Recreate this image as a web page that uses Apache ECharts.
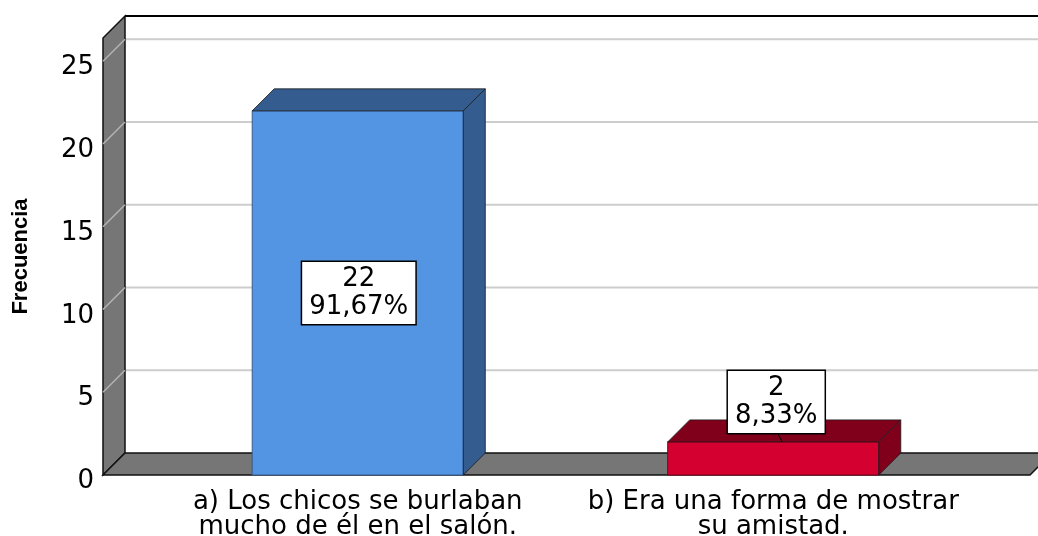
<!DOCTYPE html>
<html>
<head>
<meta charset="utf-8">
<script src="https://cdn.jsdelivr.net/npm/echarts@6/dist/echarts.min.js"></script>
<style>
  html, body { margin: 0; padding: 0; background: #fff; }
  #main { width: 1038px; height: 536px; }
</style>
</head>
<body>
<div id="main"></div>
<script>
// datos del gráfico
var categories = ['a) Los chicos se burlaban\nmucho de él en el salón.', 'b) Era una forma de mostrar\nsu amistad.'];
var frecuencias = [22, 2];
var yTicks = [0, 5, 10, 15, 20, 25];

var total = frecuencias.reduce(function (a, b) { return a + b; }, 0);
var frontColors = ['#5495e3', '#d4002f'];
var darkColors = ['#355c8f', '#80001c'];
var DEPTH = 22;          // desplazamiento 3D
var PAD_LEFT = 47;       // la pared sale del grid
var PAD_RIGHT = 49;
var FONT = 'DejaVu Sans';

function pct(v) {
    return (v / total * 100).toFixed(2).replace('.', ',') + '%';
}

// paredes, piso y líneas de la cuadrícula
function renderWalls(params, api) {
    var cs = params.coordSys;
    var fl = cs.x - PAD_LEFT, fr = cs.x + cs.width + PAD_RIGHT;
    var top = cs.y, y0 = cs.y + cs.height;
    var bl = fl + DEPTH, br = fr + DEPTH;
    var children = [];
    children.push({ type: 'rect', shape: { x: bl, y: top - DEPTH, width: br - bl, height: cs.height }, style: { fill: '#fff' } });
    yTicks.forEach(function (t) {
        if (t === 0) return;
        var y = api.coord([0, t])[1];
        children.push({ type: 'line', shape: { x1: bl, y1: y - DEPTH, x2: br, y2: y - DEPTH }, style: { stroke: '#cdcdcd', lineWidth: 2 } });
    });
    children.push({ type: 'line', shape: { x1: bl, y1: top - DEPTH, x2: br, y2: top - DEPTH }, style: { stroke: '#000', lineWidth: 2 } });
    // pared izquierda
    children.push({ type: 'polygon', shape: { points: [[fl, y0], [fl, top], [bl, top - DEPTH], [bl, y0 - DEPTH]] }, style: { fill: '#767676', stroke: '#111', lineWidth: 1.5 } });
    yTicks.forEach(function (t) {
        if (t === 0) return;
        var y = api.coord([0, t])[1];
        children.push({ type: 'line', shape: { x1: fl, y1: y, x2: bl, y2: y - DEPTH }, style: { stroke: '#b4b4b4', lineWidth: 1.5 } });
    });
    // piso
    children.push({ type: 'polygon', shape: { points: [[fl, y0], [fr, y0], [br, y0 - DEPTH], [bl, y0 - DEPTH]] }, style: { fill: '#767676', stroke: '#111', lineWidth: 1.5 } });
    return { type: 'group', children: children };
}

// barras 3D con etiqueta
function renderBar(params, api) {
    var i = params.dataIndex;
    var v = api.value(1);
    var p = api.coord([api.value(0), v]);
    var base = api.coord([api.value(0), 0])[1];
    var w = api.size([1, 0])[0] * 0.508;
    var l = p[0] - w / 2, r = p[0] + w / 2, yt = p[1];
    var children = [
        { type: 'rect', shape: { x: l, y: yt, width: w, height: base - yt }, style: { fill: frontColors[i], stroke: darkColors[i], lineWidth: 1 } },
        { type: 'polygon', shape: { points: [[l, yt], [l + DEPTH, yt - DEPTH], [r + DEPTH, yt - DEPTH], [r, yt]] }, style: { fill: darkColors[i], stroke: '#1a1a1a', lineWidth: 0.8 } },
        { type: 'polygon', shape: { points: [[r, yt], [r + DEPTH, yt - DEPTH], [r + DEPTH, base - DEPTH], [r, base]] }, style: { fill: darkColors[i], stroke: '#1a1a1a', lineWidth: 0.8 } }
    ];
    var boxH = 64;
    var labelStyle = {
        text: v + '\n' + pct(v), fontSize: 26, fontFamily: FONT, fill: '#000', lineHeight: 28,
        align: 'center', backgroundColor: '#fff', borderColor: '#000', borderWidth: 1.5, padding: [3, 7]
    };
    if (base - yt > boxH + 10) {
        labelStyle.verticalAlign = 'middle';
        children.push({ type: 'text', x: p[0] + 1, y: (yt + base) / 2, style: labelStyle });
    } else {
        labelStyle.verticalAlign = 'bottom';
        children.push({ type: 'line', shape: { x1: p[0] + 3, y1: yt - 11, x2: p[0] + 9, y2: yt }, style: { stroke: '#000', lineWidth: 1 } });
        children.push({ type: 'text', x: p[0] + 3, y: yt - 9, style: labelStyle });
    }
    return { type: 'group', children: children };
}

var chart = echarts.init(document.getElementById('main'));
var option = {
    backgroundColor: '#fff',
    animation: false,
    grid: { left: 150, right: 57, top: 38, bottom: 61, outerBoundsMode: 'none', containLabel: false },
    xAxis: {
        type: 'category',
        data: categories,
        axisLine: { show: false },
        axisTick: { show: false },
        axisLabel: { fontSize: 26, fontFamily: FONT, color: '#000', lineHeight: 25, margin: 15, interval: 0 }
    },
    yAxis: {
        type: 'value',
        min: 0,
        max: 26.4,
        interval: 5,
        name: 'Frecuencia',
        nameLocation: 'middle',
        nameGap: 118,
        nameTextStyle: { fontSize: 22, fontWeight: 'bold', fontFamily: 'Liberation Sans', color: '#000' },
        axisLine: { show: false },
        axisTick: { show: false },
        splitLine: { show: false },
        axisLabel: {
            margin: 56,
            formatter: function (val) { return yTicks.indexOf(val) >= 0 ? '{v|' + val + '}' : ''; },
            rich: { v: { fontSize: 26, fontFamily: FONT, color: '#000', padding: [13, 0, 0, 0] } }
        }
    },
    series: [
        { type: 'custom', renderItem: renderWalls, data: [[0, 0]], clip: false, z: 1, silent: true },
        { type: 'custom', renderItem: renderBar, data: frecuencias.map(function (v, i) { return [i, v]; }), clip: false, z: 2 }
    ]
};
chart.setOption(option);
</script>
</body>
</html>
